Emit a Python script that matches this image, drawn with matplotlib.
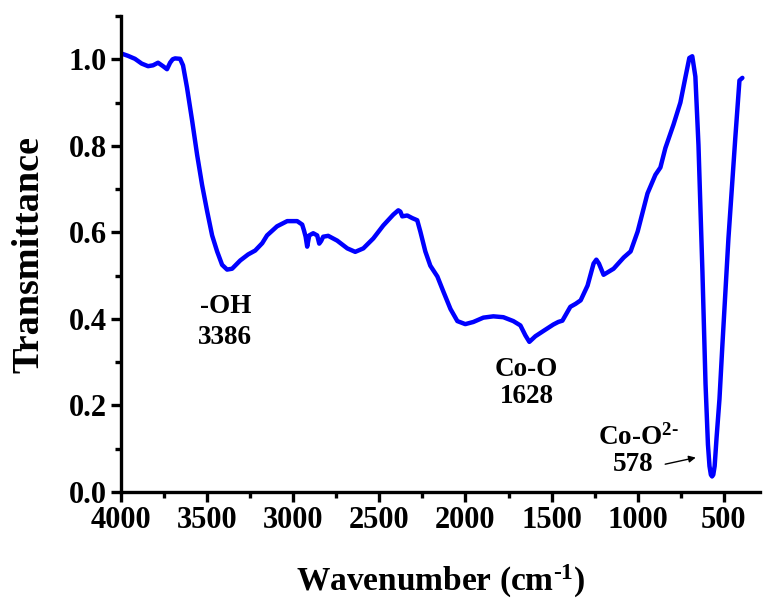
import matplotlib
matplotlib.use("Agg")
import matplotlib.pyplot as plt
from matplotlib.ticker import MultipleLocator

# Spectrum (wavenumber cm^-1, transmittance)
wavenumber = [4000, 3996, 3960, 3919, 3880, 3843, 3814, 3785, 3756, 3733, 3715, 3700, 3686,
              3657, 3640, 3617, 3587, 3558, 3529, 3500, 3471, 3442, 3413, 3384, 3355,
              3308, 3262, 3221, 3180, 3152, 3094, 3035, 2977, 2948, 2938, 2928, 2919,
              2907, 2884, 2861, 2849, 2838, 2826, 2797, 2745, 2686, 2640, 2593, 2535,
              2477, 2419, 2390, 2378, 2367, 2338, 2309, 2280, 2262, 2233, 2204, 2163,
              2128, 2087, 2047, 2001, 1954, 1896, 1838, 1780, 1722, 1681, 1652, 1629,
              1594, 1548, 1490, 1461, 1437, 1391, 1360, 1331, 1291, 1256, 1240, 1225,
              1198, 1140, 1081, 1041, 1000, 943, 897, 868, 839, 792, 752, 723, 700,
              683, 665, 647, 624, 606, 592, 583, 575, 568, 561, 553, 542, 525, 508, 473, 433,
              409, 392]
transmittance = [1.012, 1.013, 1.008, 1.001, 0.990, 0.984, 0.986, 0.992, 0.984, 0.977, 0.992, 1.000, 1.002,
                 1.001, 0.986, 0.935, 0.858, 0.779, 0.709, 0.649, 0.593, 0.556, 0.525, 0.514, 0.516,
                 0.535, 0.549, 0.558, 0.575, 0.593, 0.614, 0.626, 0.626, 0.618, 0.605, 0.590, 0.567,
                 0.593, 0.598, 0.593, 0.574, 0.580, 0.590, 0.592, 0.581, 0.563, 0.555, 0.563, 0.586,
                 0.616, 0.641, 0.651, 0.648, 0.637, 0.639, 0.633, 0.628, 0.602, 0.556, 0.523, 0.498,
                 0.463, 0.423, 0.395, 0.388, 0.393, 0.403, 0.406, 0.404, 0.395, 0.385, 0.362, 0.347,
                 0.360, 0.372, 0.387, 0.393, 0.396, 0.428, 0.435, 0.443, 0.477, 0.528, 0.537, 0.528,
                 0.502, 0.516, 0.542, 0.556, 0.602, 0.690, 0.733, 0.750, 0.795, 0.849, 0.900, 0.958, 1.003,
                 1.007, 0.960, 0.802, 0.509, 0.250, 0.110, 0.060, 0.040, 0.036, 0.040, 0.060, 0.125, 0.215, 0.340, 0.586, 0.819,
                 0.951, 0.957]

x_ticks = [4000, 3500, 3000, 2500, 2000, 1500, 1000, 500]
y_ticks = [0.0, 0.2, 0.4, 0.6, 0.8, 1.0]
x_tick_labels = ["4000", "3500", "3000", "2500", "2000", "1500", "1000", "500"]
y_tick_labels = ["0.0", "0.2", "0.4", "0.6", "0.8", "1.0"]

plt.rcParams['font.family'] = ['Liberation Serif', 'DejaVu Serif']
plt.rcParams['font.weight'] = 'bold'
plt.rcParams['mathtext.fontset'] = 'custom'
plt.rcParams['mathtext.rm'] = 'Liberation Serif:bold'
plt.rcParams['mathtext.it'] = 'Liberation Serif:bold'
plt.rcParams['mathtext.bf'] = 'Liberation Serif:bold'
plt.rcParams['mathtext.default'] = 'rm'

fig = plt.figure(figsize=(7.63, 6.03), dpi=100)
ax = fig.add_axes([0.1586, 0.184, 0.996 - 0.1586, 0.9735 - 0.184])

ax.plot(wavenumber, transmittance, color='#0000ff', lw=3.2,
        solid_joinstyle='round', solid_capstyle='round')

ax.set_xlim(4000, 290)
ax.set_ylim(0, 1.1)
ax.set_xticks(x_ticks)
ax.set_xticklabels(x_tick_labels)
ax.set_yticks(y_ticks)
ax.set_yticklabels(y_tick_labels)
ax.xaxis.set_minor_locator(MultipleLocator(250))
ax.yaxis.set_minor_locator(MultipleLocator(0.1))

for s in ['top', 'right']:
    ax.spines[s].set_visible(False)
for s in ['left', 'bottom']:
    ax.spines[s].set_linewidth(2.4)

ax.tick_params(which='major', direction='out', length=7, width=2.4, labelsize=22, pad=3)
ax.tick_params(which='minor', direction='out', length=4, width=2.4)
for lab in ax.get_xticklabels() + ax.get_yticklabels():
    lab.set_fontweight('bold')

ax.set_xlabel(r'Wavenumber (cm$^{\text{-1}}$)', fontsize=24, fontweight='bold')
ax.xaxis.set_label_coords(0.5, -0.148)
ax.set_ylabel('Transmittance', fontsize=27.5, fontweight='bold')
ax.yaxis.set_label_coords(-0.116, 0.5)

ax.text(3395, 0.428, '-OH', fontsize=19.5, fontweight='bold', ha='center', va='center')
ax.text(3395, 0.356, '3386', fontsize=19.5, fontweight='bold', ha='center', va='center')
ax.text(1645, 0.284, 'Co-O', fontsize=19.5, fontweight='bold', ha='center', va='center')
ax.text(1645, 0.220, '1628', fontsize=19.5, fontweight='bold', ha='center', va='center')
ax.text(1228, 0.126, r'Co-O$^{\text{2-}}$', fontsize=19.5, fontweight='bold', ha='left', va='center')
ax.text(1025, 0.063, '578', fontsize=19.5, fontweight='bold', ha='center', va='center')
ax.annotate('', xy=(647, 0.081), xytext=(856, 0.063),
            arrowprops=dict(arrowstyle='-|>', color='black', lw=1.0, mutation_scale=10))

fig.savefig('out.png', dpi=100)
